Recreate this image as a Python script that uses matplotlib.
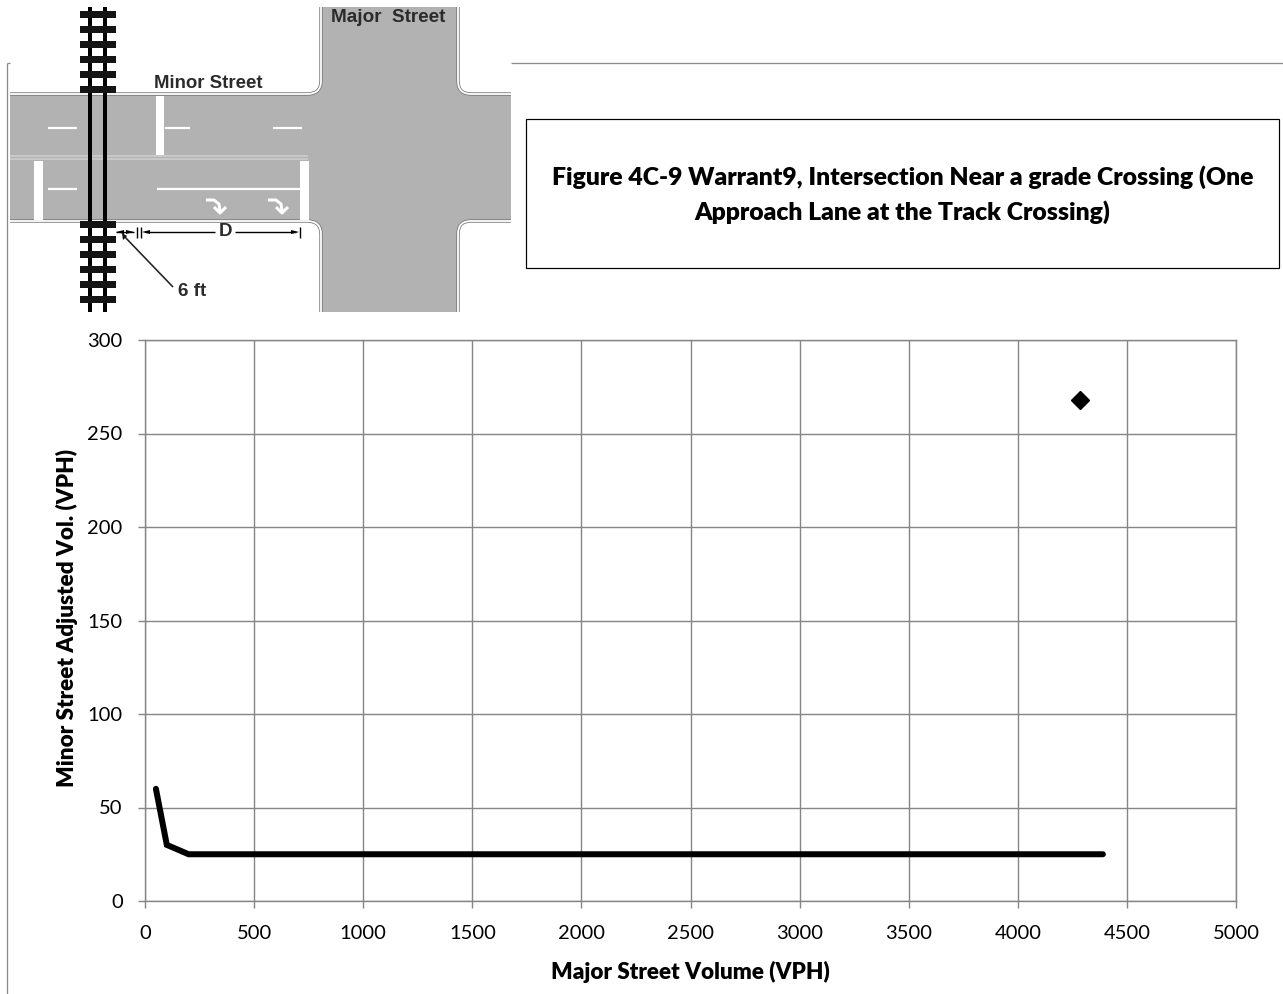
import matplotlib
matplotlib.use("Agg")
from matplotlib import pyplot as plt
from matplotlib.path import Path
from matplotlib.patches import PathPatch, Rectangle

# chart data
warrant_x = [50, 100, 200, 4390]
warrant_y = [60, 30, 25, 25]
point_x = [4285]
point_y = [268]
x_ticks = [0, 500, 1000, 1500, 2000, 2500, 3000, 3500, 4000, 4500, 5000]
y_ticks = [0, 50, 100, 150, 200, 250, 300]
x_title = "Major Street Volume (VPH)"
y_title = "Minor Street Adjusted Vol. (VPH)"
fig_title = "Figure 4C-9 Warrant9, Intersection Near a grade Crossing (One\nApproach Lane at the Track Crossing)"

W, H = 1283, 994
plt.rcParams['font.family'] = ['Lato', 'DejaVu Sans']
fig = plt.figure(figsize=(W / 100, H / 100), dpi=100)
px = 0.72  # points per pixel

# main chart
ax = fig.add_axes([145 / W, 1 - 901 / H, (1236 - 145) / W, (901 - 340) / H])
ax.plot(warrant_x, warrant_y, color='black', lw=6 * px, solid_capstyle='round', solid_joinstyle='miter', clip_on=False, zorder=3)
ax.plot(point_x, point_y, 'D', color='black', ms=13 * px, zorder=4)
ax.set_xlim(0, 5000)
ax.set_ylim(0, 300)
ax.set_xticks(x_ticks)
ax.set_yticks(y_ticks)
ax.grid(True, color='#868686', lw=1.4 * px)
ax.set_axisbelow(True)
for s in ax.spines.values():
    s.set_color('#868686')
    s.set_linewidth(1.4 * px)
ax.tick_params(colors='black', labelsize=14.5, length=7 * px, width=1.4 * px, color='#868686')
ax.tick_params(axis='x', pad=12)
ax.tick_params(axis='y', pad=11)
ax.set_xlabel(x_title, fontsize=16.2, fontweight=800, labelpad=14)
ax.set_ylabel(y_title, fontsize=16.2, fontweight=800, labelpad=7, y=0.505)

# overlay in pixel coordinates for the sketch and frame
ov = fig.add_axes([0, 0, 1, 1], zorder=5)
ov.set_xlim(0, W)
ov.set_ylim(H, 0)
ov.axis('off')

road = '#b2b2b2'
M, L, C = Path.MOVETO, Path.LINETO, Path.CURVE3

def line(xs, ys, c='black', lw=1.0, **kw):
    ov.plot(xs, ys, color=c, lw=lw * px, solid_capstyle='butt', **kw)

def rect(x0, y0, x1, y1, c):
    ov.add_patch(Rectangle((x0, y0), x1 - x0, y1 - y0, fc=c, ec='none'))

# frame lines
line([7, 7], [994, 63], '#8c8c8c', 1.3)
line([7, 10], [63, 63], '#8c8c8c', 1.3)
line([511, 1283], [63, 63], '#8c8c8c', 1.3)

# road surface
verts = [(10, 94), (307, 94), (321, 94), (321, 81), (321, 7), (458, 7), (458, 81), (458, 94), (471, 94),
         (511, 94), (511, 221), (471, 221), (458, 221), (458, 234), (458, 312), (321, 312), (321, 234),
         (321, 221), (307, 221), (10, 221), (10, 94)]
codes = [M, L, C, C, L, L, L, C, C, L, L, L, C, C, L, L, L, C, C, L, Path.CLOSEPOLY]
ov.add_patch(PathPatch(Path(verts, codes), fc=road, ec='none'))

# kerbs: grey line with white inner edge
kerbs = [[(10, 94), (307, 94), (321, 94), (321, 81), (321, 7)],
         [(458, 7), (458, 81), (458, 94), (471, 94), (511, 94)],
         [(511, 221), (471, 221), (458, 221), (458, 234), (458, 312)],
         [(321, 312), (321, 234), (321, 221), (307, 221), (10, 221)]]
for k in kerbs:
    p = Path(k, [M, L, C, C, L])
    ov.add_patch(PathPatch(p, fc='none', ec='#777777', lw=3.4 * px))
    ov.add_patch(PathPatch(p, fc='none', ec='white', lw=1.8 * px))

# median and stop bars
rect(10, 155, 308, 160, '#c8c8c8')
rect(10, 156.8, 308, 158.2, road)
rect(156, 96, 164, 155, 'white')
rect(34, 161, 43, 220, 'white')
rect(300, 161, 309, 220, 'white')

# lane markings
for x0, x1, y in [(48, 77, 128), (165, 190, 128), (273, 302, 128), (48, 77, 189), (157, 300, 189)]:
    line([x0, x1], [y, y], 'white', 2.2)

# turn arrows
for ax0 in [206, 268]:
    ov.plot([ax0, ax0 + 8, ax0 + 13, ax0 + 14], [200, 200, 204, 211], color='white', lw=3 * px, solid_capstyle='butt')
    ov.plot([ax0 + 8, ax0 + 14, ax0 + 20], [207, 213, 207], color='white', lw=3 * px, solid_capstyle='butt')

# railway
rect(88, 7, 92, 312, 'black')
rect(103, 7, 107, 312, 'black')
for y in [14.7, 29.7, 44.7, 59.7, 74.7, 89.7, 224.7, 239.7, 254.7, 269.7, 284.7, 299.7]:
    rect(80, y - 3.5, 116, y + 3.5, '#141414')

# dimensions
line([116, 134], [232, 232], 'black', 1.4)
line([137, 137], [227, 238], 'black', 1.4)
line([141, 141], [227, 238], 'black', 1.4)
line([300, 300], [227, 238], 'black', 1.4)
line([145, 215], [232, 232], 'black', 1.4)
line([235, 296], [232, 232], 'black', 1.4)
for tip, d in [(116, 1), (134, -1), (142, 1), (299, -1)]:
    ov.fill([tip, tip + 8 * d, tip + 8 * d], [232, 230, 234], color='black', lw=0)
line([173, 123], [287, 235], '#222222', 1.6)
ov.fill([122, 123, 127], [233, 240, 236], color='black', lw=0)

sk = dict(family=['Liberation Sans'], fontweight='bold', color='#2b2b2b', va='center')
ov.text(154, 83, "Minor Street", fontsize=13.4, ha='left', **sk)
ov.text(331, 17, "Major  Street", fontsize=13.6, ha='left', **sk)
ov.text(225, 232, "D", fontsize=13.5, ha='center', **sk)
ov.text(178, 291.5, "6 ft", fontsize=13.5, ha='left', **sk)

# title box
ov.add_patch(Rectangle((526, 119), 753, 149, fc='white', ec='black', lw=1.2 * px))
ov.text(902.5, 194.5, fig_title, ha='center', va='center', fontsize=17.85, fontweight=800, linespacing=1.55)

fig.savefig('out.png', dpi=100)
